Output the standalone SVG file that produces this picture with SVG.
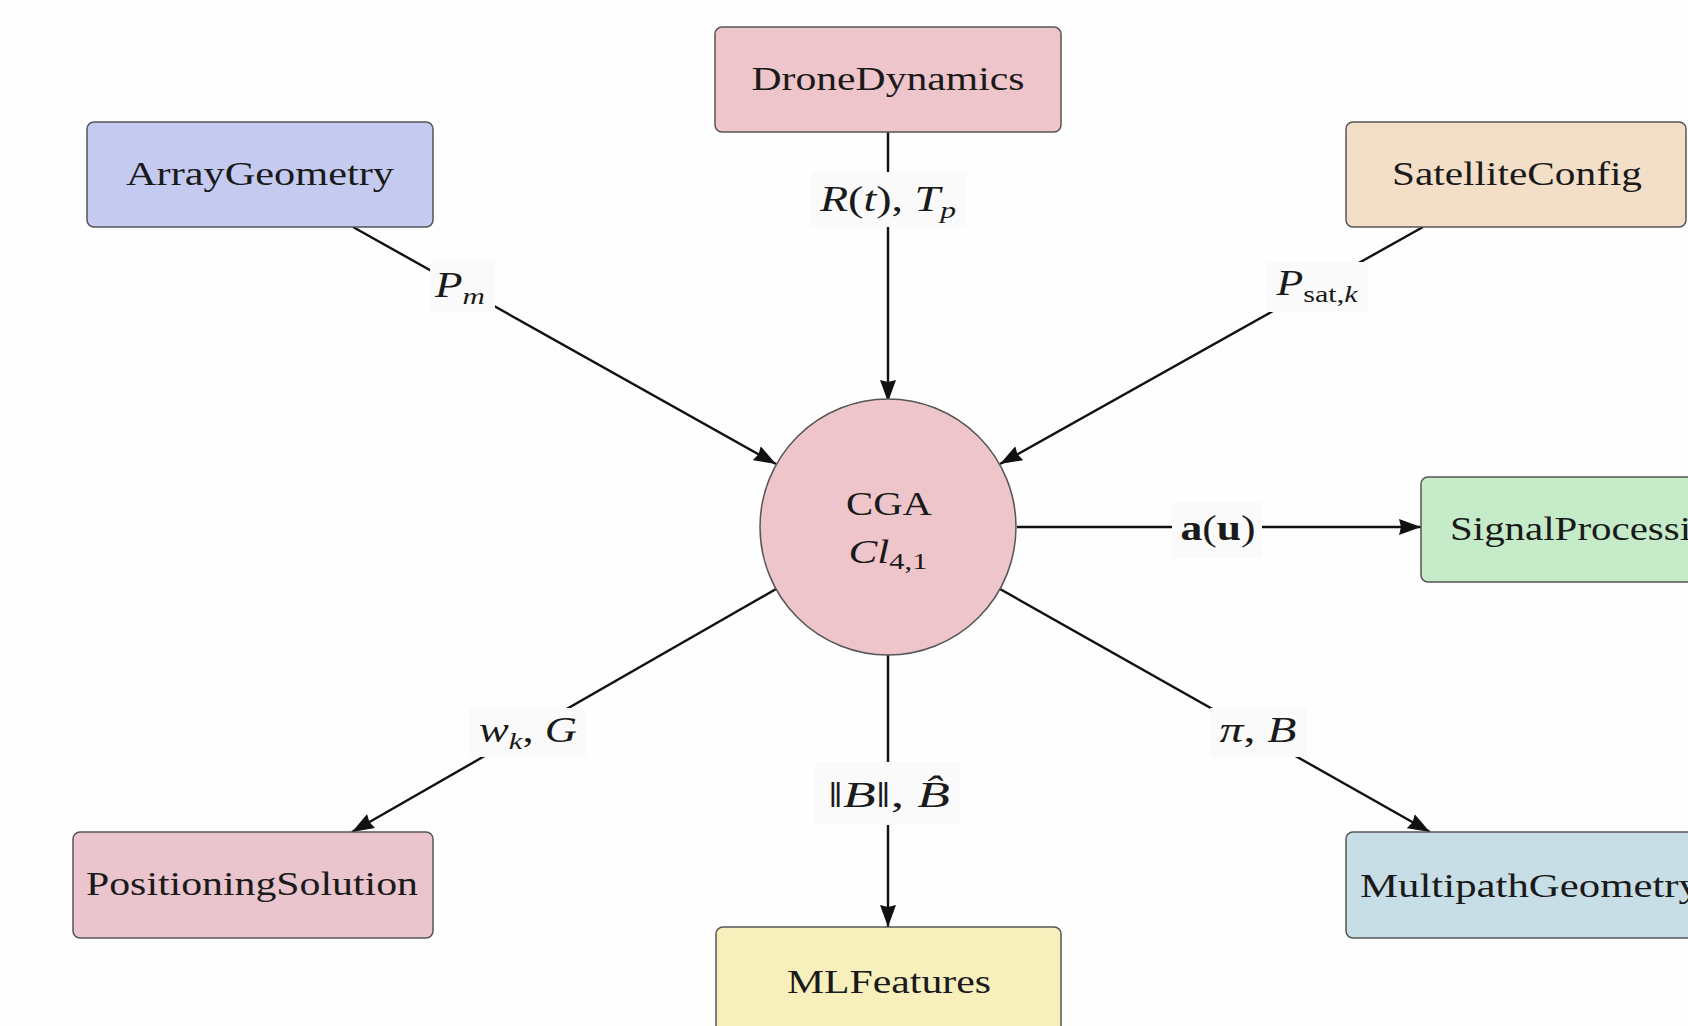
<svg xmlns="http://www.w3.org/2000/svg" width="1688" height="1026" viewBox="0 0 1688 1026">
<defs>
<marker id="arr" markerUnits="userSpaceOnUse" markerWidth="23" markerHeight="18" refX="22" refY="9" orient="auto">
<path d="M0,1 L22,9 L0,17 L2,9 Z" fill="#111"/>
</marker>
<style>
.box{stroke:#555;stroke-width:1.5}
.nt{font-family:"Liberation Serif","Times New Roman",serif;font-size:34px;fill:#1a1a1a;text-anchor:middle}
.lt{font-family:"Liberation Serif","Times New Roman",serif;font-size:35px;fill:#1a1a1a;text-anchor:middle}
.it{font-style:italic}
.sub{font-size:24px}
.edge{stroke:#111;stroke-width:2.4;fill:none;marker-end:url(#arr)}
.lbg{fill:#fafafa;stroke:none}
</style>
</defs>
<rect x="0" y="0" width="1688" height="1026" fill="#fefefe"/>

<g id="connectors">
<line class="edge" x1="888" y1="132" x2="888" y2="402"/>
<line class="edge" x1="353" y1="227" x2="776" y2="464"/>
<line class="edge" x1="1423" y1="227" x2="1000" y2="464"/>
<line class="edge" x1="1017" y1="527" x2="1421" y2="527"/>
<line class="edge" x1="776" y1="589" x2="352" y2="832"/>
<line class="edge" x1="888" y1="653" x2="888" y2="927"/>
<line class="edge" x1="1000" y1="589" x2="1430" y2="832"/>

<rect class="lbg" x="811" y="172" width="155" height="55"/>
<text class="lt" x="888" y="211" textLength="136" lengthAdjust="spacingAndGlyphs"><tspan class="it">R</tspan>(<tspan class="it">t</tspan>), <tspan class="it">T</tspan><tspan class="it sub" dy="7">p</tspan></text>

<rect class="lbg" x="430" y="260" width="65" height="52"/>
<text class="lt" x="460" y="297" textLength="50" lengthAdjust="spacingAndGlyphs"><tspan class="it">P</tspan><tspan class="it sub" dy="7">m</tspan></text>

<rect class="lbg" x="1267" y="262" width="101" height="50"/>
<text class="lt" x="1317" y="295" textLength="81" lengthAdjust="spacingAndGlyphs"><tspan class="it">P</tspan><tspan class="sub" dy="7">sat,</tspan><tspan class="it sub">k</tspan></text>

<rect class="lbg" x="1172" y="502" width="90" height="56"/>
<text class="lt" x="1218" y="540" textLength="75" lengthAdjust="spacingAndGlyphs"><tspan font-weight="bold">a</tspan>(<tspan font-weight="bold">u</tspan>)</text>

<rect class="lbg" x="469" y="708" width="117" height="49"/>
<text class="lt" x="528" y="742" textLength="98" lengthAdjust="spacingAndGlyphs"><tspan class="it">w</tspan><tspan class="it sub" dy="7">k</tspan><tspan dy="-7">, </tspan><tspan class="it">G</tspan></text>

<rect class="lbg" x="815" y="762" width="145" height="63"/>
<text class="lt" x="889" y="807" textLength="122" lengthAdjust="spacingAndGlyphs">‖<tspan class="it">B</tspan>‖, <tspan class="it">B̂</tspan></text>

<rect class="lbg" x="1210" y="708" width="97" height="49"/>
<text class="lt" x="1258" y="742" textLength="77" lengthAdjust="spacingAndGlyphs"><tspan class="it">π</tspan>, <tspan class="it">B</tspan></text>
</g>

<g id="ArrayGeometry">
<rect class="box" x="87" y="122" width="346" height="105" rx="7" fill="#c5cbf0"/>
<text class="nt" x="260" y="185" textLength="268" lengthAdjust="spacingAndGlyphs">ArrayGeometry</text>
</g>
<g id="DroneDynamics">
<rect class="box" x="715" y="27" width="346" height="105" rx="7" fill="#efc5cc"/>
<text class="nt" x="888" y="90" textLength="273" lengthAdjust="spacingAndGlyphs">DroneDynamics</text>
</g>
<g id="SatelliteConfig">
<rect class="box" x="1346" y="122" width="340" height="105" rx="7" fill="#f3dfc7"/>
<text class="nt" x="1517" y="185" textLength="250" lengthAdjust="spacingAndGlyphs">SatelliteConfig</text>
</g>
<g id="CGA">
<circle class="box" cx="888" cy="527" r="128" fill="#efc5cc"/>
<text class="nt" x="889" y="515" textLength="86" lengthAdjust="spacingAndGlyphs">CGA</text>
<text class="nt" x="888" y="563" textLength="79" lengthAdjust="spacingAndGlyphs"><tspan class="it">Cl</tspan><tspan class="sub" dy="6">4,1</tspan></text>
</g>
<g id="SignalProcessing">
<rect class="box" x="1421" y="477" width="346" height="105" rx="7" fill="#c5ebc9"/>
<text class="nt" x="1591" y="540" textLength="282" lengthAdjust="spacingAndGlyphs">SignalProcessing</text>
</g>
<g id="PositioningSolution">
<rect class="box" x="73" y="832" width="360" height="106" rx="7" fill="#eac5cd"/>
<text class="nt" x="252" y="895" textLength="332" lengthAdjust="spacingAndGlyphs">PositioningSolution</text>
</g>
<g id="MLFeatures">
<rect class="box" x="716" y="927" width="345" height="106" rx="7" fill="#f7f0bc"/>
<text class="nt" x="889" y="993" textLength="204" lengthAdjust="spacingAndGlyphs">MLFeatures</text>
</g>
<g id="MultipathGeometry">
<rect class="box" x="1346" y="832" width="368" height="106" rx="7" fill="#c8dee6"/>
<text class="nt" x="1530" y="897" textLength="340" lengthAdjust="spacingAndGlyphs">MultipathGeometry</text>
</g>
</svg>
